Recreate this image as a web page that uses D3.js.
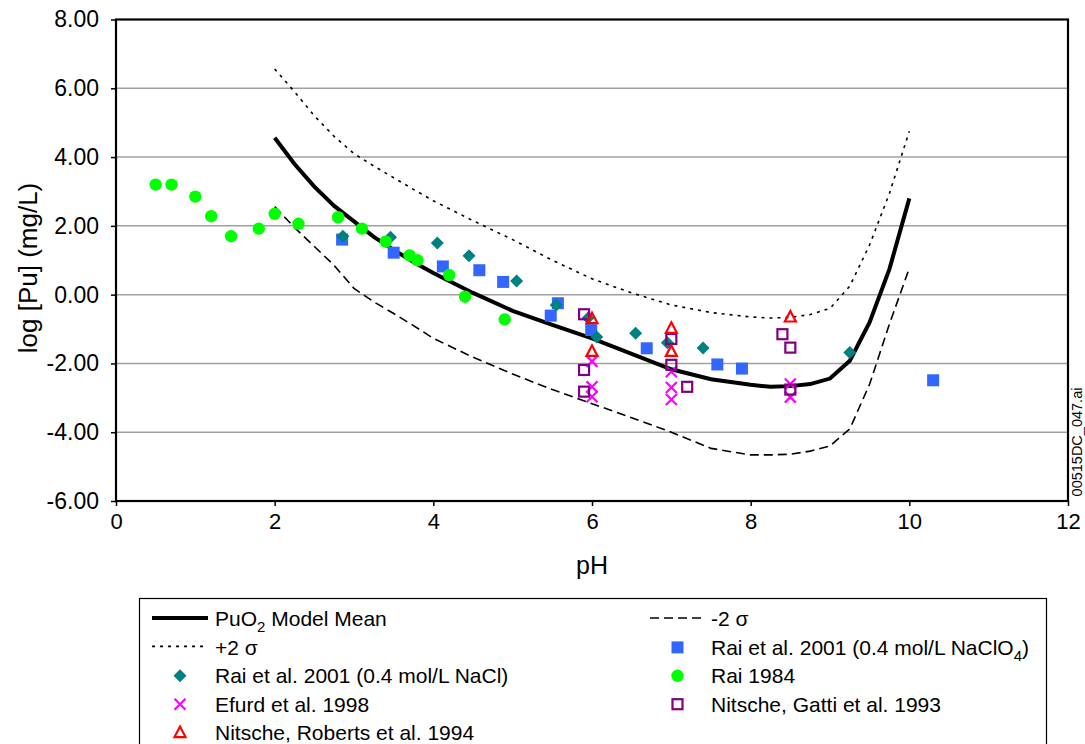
<!DOCTYPE html>
<html>
<head>
<meta charset="utf-8">
<script src="https://cdn.jsdelivr.net/npm/d3@7"></script>
<style>
  html, body { margin: 0; padding: 0; background: #fff; }
  svg { display: block; font-family: "Liberation Sans", Arial, sans-serif; }
</style>
</head>
<body>
<svg id="chart" width="1085" height="744"></svg>
<script>
// Model curves (pH grid shared by the mean and the ±2σ bounds)
const modelPH = [2.0, 2.25, 2.5, 2.75, 3.0, 3.25, 3.5, 3.75, 4.0, 4.5, 5.0, 5.5, 6.0, 6.5, 7.0, 7.5, 8.0, 8.25, 8.5, 8.75, 9.0, 9.25, 9.5, 9.75, 10.0];
const modelMean = [4.56, 3.8, 3.14, 2.58, 2.13, 1.68, 1.3, 0.95, 0.63, 0.05, -0.47, -0.88, -1.27, -1.72, -2.17, -2.46, -2.62, -2.68, -2.66, -2.6, -2.44, -1.92, -0.8, 0.75, 2.8];
const modelPlus2 = [6.56, 5.9, 5.2, 4.6, 4.1, 3.74, 3.4, 3.06, 2.73, 2.15, 1.6, 1.0, 0.46, 0.05, -0.3, -0.52, -0.65, -0.68, -0.66, -0.58, -0.4, 0.25, 1.45, 2.95, 4.75];
const modelMinus2 = [2.56, 1.95, 1.4, 0.85, 0.18, -0.21, -0.55, -0.9, -1.27, -1.82, -2.31, -2.76, -3.17, -3.58, -4.0, -4.47, -4.66, -4.66, -4.64, -4.55, -4.4, -3.9, -2.6, -0.85, 0.77];

// Measured solubility data: [pH, log [Pu] (mg/L)]
const raiNaClO4 = [[2.85, 1.6], [3.5, 1.22], [4.12, 0.82], [4.58, 0.71], [4.88, 0.37], [5.48, -0.61], [5.57, -0.25], [5.99, -1.03], [6.69, -1.56], [7.58, -2.03], [7.89, -2.15], [10.3, -2.49]];
const raiNaCl = [[2.86, 1.7], [3.46, 1.67], [4.05, 1.5], [4.45, 1.13], [5.05, 0.4], [5.55, -0.3], [5.95, -0.68], [6.06, -1.23], [6.55, -1.12], [6.95, -1.4], [7.4, -1.55], [9.25, -1.68]];
const rai1984 = [[0.5, 3.2], [0.7, 3.2], [1.0, 2.85], [1.2, 2.28], [1.45, 1.7], [1.8, 1.92], [2.0, 2.35], [2.3, 2.06], [2.8, 2.25], [3.1, 1.92], [3.4, 1.54], [3.7, 1.14], [3.8, 1.0], [4.2, 0.57], [4.4, -0.06], [4.9, -0.72]];
const efurd1998 = [[6.0, -1.94], [6.0, -2.68], [6.0, -2.97], [7.0, -2.24], [7.0, -2.7], [7.0, -3.05], [8.5, -2.6], [8.5, -2.98]];
const nitscheGatti1993 = [[5.9, -0.57], [5.9, -2.19], [5.9, -2.82], [7.0, -1.29], [7.0, -2.04], [7.2, -2.68], [8.4, -1.15], [8.5, -1.54], [8.5, -2.76]];
const nitscheRoberts1994 = [[6.0, -0.7], [6.0, -1.65], [7.0, -0.98], [7.0, -1.65], [8.5, -0.65]];

const xTicks = [0, 2, 4, 6, 8, 10, 12];
const yTicks = [-6, -4, -2, 0, 2, 4, 6, 8];

const svg = d3.select("#chart");
const x = d3.scaleLinear().domain([0, 12]).range([116, 1068]);
const y = d3.scaleLinear().domain([-6, 8]).range([501, 19.5]);

// Horizontal gridlines
svg.append("g").selectAll("line")
  .data(yTicks.filter(v => v > -6 && v < 8))
  .join("line")
  .attr("x1", x(0)).attr("x2", x(12))
  .attr("y1", d => y(d)).attr("y2", d => y(d))
  .attr("stroke", "#a0a0a0").attr("stroke-width", 1.5);

// Axes
const yAxis = svg.append("g").attr("transform", `translate(${x(0)},0)`)
  .call(d3.axisLeft(y).tickValues(yTicks).tickSize(5).tickPadding(12).tickFormat(d => d.toFixed(2)));
const xAxis = svg.append("g").attr("transform", `translate(0,${y(-6)})`)
  .call(d3.axisBottom(x).tickValues(xTicks).tickSize(5).tickPadding(7).tickFormat(d => String(d)));
[yAxis, xAxis].forEach(g => {
  g.select(".domain").remove();
  g.selectAll(".tick line").attr("stroke", "#000").attr("stroke-width", 1.5);
  g.selectAll(".tick text").attr("fill", "#000")
    .style("font-family", "'Liberation Sans', Arial, sans-serif");
});
yAxis.selectAll(".tick text").style("font-size", "23px");
xAxis.selectAll(".tick text").style("font-size", "22px");

// Plot frame
svg.append("rect")
  .attr("x", x(0)).attr("y", y(8))
  .attr("width", x(12) - x(0)).attr("height", y(-6) - y(8))
  .attr("fill", "none").attr("stroke", "#000").attr("stroke-width", 2.2);

// Axis titles
svg.append("text").attr("x", x(6)).attr("y", 574)
  .attr("text-anchor", "middle").style("font-size", "25px").text("pH");
svg.append("text")
  .attr("transform", "translate(37,268) rotate(-90)")
  .attr("text-anchor", "middle").style("font-size", "26px").text("log [Pu] (mg/L)");

// File tag on the right margin
svg.append("text")
  .attr("transform", "translate(1077,442) rotate(-90)")
  .attr("text-anchor", "middle").attr("dy", "0.35em")
  .style("font-size", "14.5px").text("00515DC_047.ai");

// Model curves
const toPts = vals => modelPH.map((p, i) => [p, vals[i]]);
const line = d3.line().x(d => x(d[0])).y(d => y(d[1]));
const curves = [
  { vals: modelMinus2, width: 1.6, dash: "9,5" },
  { vals: modelPlus2, width: 1.6, dash: "3,5" },
  { vals: modelMean, width: 4, dash: null }
];
curves.forEach(c => {
  svg.append("path").datum(toPts(c.vals))
    .attr("d", line).attr("fill", "none").attr("stroke", "#000")
    .attr("stroke-width", c.width).attr("stroke-dasharray", c.dash);
});

// Marker styles
const markers = {
  square: (g, col) => g.append("rect").attr("x", -6).attr("y", -6).attr("width", 12).attr("height", 12).attr("fill", col),
  diamond: (g, col) => g.append("path").attr("d", "M0,-6.5L6.5,0L0,6.5L-6.5,0Z").attr("fill", col),
  circle: (g, col) => g.append("circle").attr("r", 6.2).attr("fill", col),
  cross: (g, col) => g.append("path").attr("d", "M-5.5,-5.5L5.5,5.5M-5.5,5.5L5.5,-5.5").attr("stroke", col).attr("stroke-width", 2.2).attr("fill", "none"),
  openSquare: (g, col) => g.append("rect").attr("x", -5).attr("y", -5).attr("width", 10).attr("height", 10).attr("fill", "none").attr("stroke", col).attr("stroke-width", 2.2),
  triangle: (g, col) => g.append("path").attr("d", "M0,-6L5.5,4.5L-5.5,4.5Z").attr("fill", "none").attr("stroke", col).attr("stroke-width", 2.2)
};

const series = [
  { data: raiNaClO4, shape: "square", color: "#3366FF" },
  { data: raiNaCl, shape: "diamond", color: "#008080" },
  { data: rai1984, shape: "circle", color: "#00FF00" },
  { data: efurd1998, shape: "cross", color: "#FF00FF" },
  { data: nitscheGatti1993, shape: "openSquare", color: "#800080" },
  { data: nitscheRoberts1994, shape: "triangle", color: "#FF0000" }
];
series.forEach(s => {
  svg.append("g").selectAll("g").data(s.data).join("g")
    .attr("transform", d => `translate(${x(d[0])},${y(d[1])})`)
    .each(function () { markers[s.shape](d3.select(this), s.color); });
});

// Legend
const lg = svg.append("g");
lg.append("rect").attr("x", 139.5).attr("y", 598.5).attr("width", 907).attr("height", 170)
  .attr("fill", "#fff").attr("stroke", "#000").attr("stroke-width", 1.2);

const legendItems = [
  { col: 0, row: 0, type: "line", width: 4, dash: null, label: ["PuO", "2", " Model Mean"] },
  { col: 0, row: 1, type: "line", width: 1.6, dash: "3,5", label: ["+2 σ"] },
  { col: 0, row: 2, type: "marker", shape: "diamond", color: "#008080", label: ["Rai et al. 2001 (0.4 mol/L NaCl)"] },
  { col: 0, row: 3, type: "marker", shape: "cross", color: "#FF00FF", label: ["Efurd et al. 1998"] },
  { col: 0, row: 4, type: "marker", shape: "triangle", color: "#FF0000", label: ["Nitsche, Roberts et al. 1994"] },
  { col: 1, row: 0, type: "line", width: 1.6, dash: "9,5", label: ["-2 σ"] },
  { col: 1, row: 1, type: "marker", shape: "square", color: "#3366FF", label: ["Rai et al. 2001 (0.4 mol/L NaClO", "4", ")"] },
  { col: 1, row: 2, type: "marker", shape: "circle", color: "#00FF00", label: ["Rai 1984"] },
  { col: 1, row: 3, type: "marker", shape: "openSquare", color: "#800080", label: ["Nitsche, Gatti et al. 1993"] }
];
const colX = [{ l0: 152, l1: 208, text: 215 }, { l0: 650, l1: 705, text: 711 }];
const rowY = r => 619 + r * 28.4;
legendItems.forEach(it => {
  const cx = colX[it.col], cy = rowY(it.row);
  if (it.type === "line") {
    lg.append("line").attr("x1", cx.l0).attr("x2", cx.l1).attr("y1", cy - 1).attr("y2", cy - 1)
      .attr("stroke", "#000").attr("stroke-width", it.width).attr("stroke-dasharray", it.dash);
  } else {
    const g = lg.append("g").attr("transform", `translate(${(cx.l0 + cx.l1) / 2},${cy})`);
    markers[it.shape](g, it.color);
  }
  const t = lg.append("text").attr("x", cx.text).attr("y", cy).attr("dy", "0.35em").style("font-size", "21px");
  it.label.forEach((part, i) => {
    if (i === 1) {
      t.append("tspan").attr("dy", "6").style("font-size", "15px").text(part);
    } else if (i === 2) {
      t.append("tspan").attr("dy", "-6").text(part);
    } else {
      t.append("tspan").text(part);
    }
  });
});
</script>
</body>
</html>
